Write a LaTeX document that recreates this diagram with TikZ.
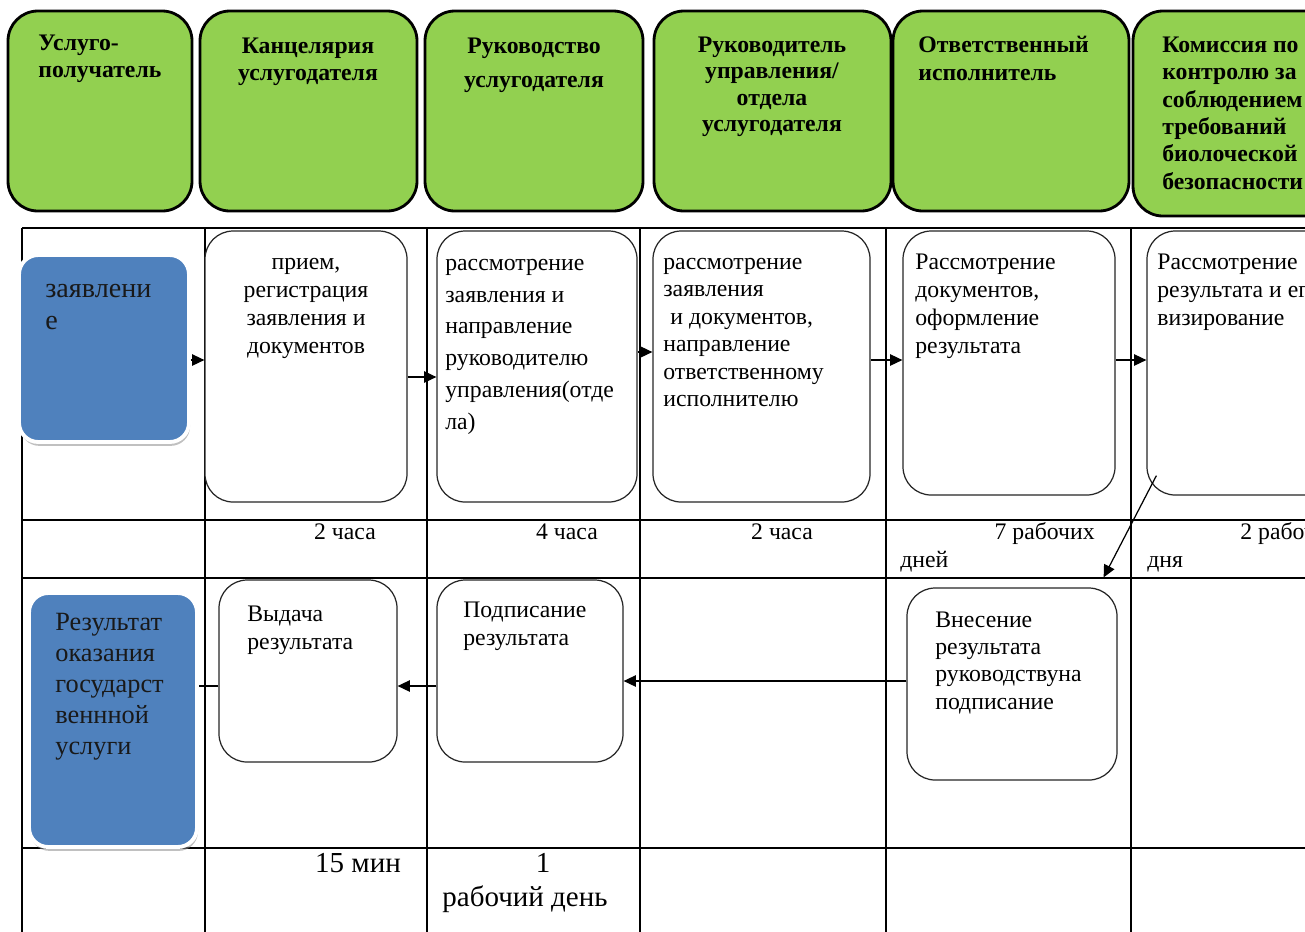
\documentclass[tikz,border=0pt]{standalone}
\usepackage{fontspec}
\setmainfont{Liberation Serif}
\usetikzlibrary{fit,calc,arrows.meta,shadows}
\definecolor{hdrgreen}{HTML}{92D050}
\definecolor{inblue}{HTML}{4F81BD}

\tikzset{
  hdr/.style={draw=black, line width=1.6pt, fill=hdrgreen, rounded corners=17pt, inner sep=0pt},
  proc/.style={draw=black!85, line width=0.7pt, fill=white, rounded corners=16pt, inner sep=0pt},
  inbox/.style={fill=inblue, draw=white, line width=2.2pt, rounded corners=11pt, inner sep=0pt,
    drop shadow={shadow xshift=0.6pt, shadow yshift=-2.2pt, fill=black!45, opacity=0.55}},
  grid/.style={line width=0.9pt, black},
  flow/.style={-{Triangle[length=7pt,width=6.5pt]}, line width=0.7pt},
  link/.style={line width=0.7pt},
  htxt/.style={inner sep=0pt, anchor=north west, align=left},
  hctr/.style={inner sep=0pt, anchor=north, align=center},
  btxt/.style={inner sep=0pt, anchor=north west, align=left},
  bctr/.style={inner sep=0pt, anchor=north, align=center},
  tlabel/.style={inner sep=0pt, font=\fontsize{13.5}{16}\selectfont},
}
\newcommand{\hfnt}[1]{\bfseries\fontsize{13.5}{#1}\selectfont}
\newcommand{\bfnt}[1]{\fontsize{13.5}{#1}\selectfont}

\begin{document}
\begin{tikzpicture}[x=0.02cm, y=-0.02cm]
\useasboundingbox (0,0) rectangle (1305,931);
\clip (0,0) rectangle (1305,931);

% table grid
\foreach \gy in {228,520,578,848} \draw[grid] (22,\gy) -- (1320,\gy);
\foreach \gx in {22,205,427,640,886,1131} \draw[grid] (\gx,228) -- (\gx,940);

% lane headers
\node[hdr, fit={(8,11)(192,211)}] (h1) {};
\node[hdr, fit={(200,11)(417,211)}] (h2) {};
\node[hdr, fit={(425,11)(643,211)}] (h3) {};
\node[hdr, fit={(654,11)(891,211)}] (h4) {};
\node[hdr, fit={(893,11)(1129,211)}] (h5) {};
\node[hdr, fit={(1133,11)(1420,216)}] (h6) {};

\node[htxt, font=\hfnt{15.3}] (h1t) at (38,31) {\strut Услуго-\\получатель};
\node[hctr, font=\hfnt{15.3}] (h2t) at (308,34) {\strut Канцелярия\\услугодателя};
\node[hctr, font=\hfnt{19.8}] (h3t) at (534,28.5) {\strut Руководство\\услугодателя};
\node[hctr, font=\hfnt{15.1}] (h4t) at (772,33.3) {\strut Руководитель\\управления/\\отдела\\услугодателя};
\node[htxt, font=\hfnt{15.9}] (h5t) at (918,32.4) {\strut Ответственный\\исполнитель};
\node[htxt, font=\hfnt{15.6}] (h6t) at (1162,32.7) {\strut Комиссия по\\контролю за\\соблюдением\\требований\\биолоческой\\безопасности};

% input and output of the service
\node[inbox, fit={(19,255)(189,442)}] (in1) {};
\node[inbox, fit={(29,593)(197,847)}] (in2) {};

% process steps
\node[proc, fit={(205,231)(407,502)}] (b1) {};
\node[proc, fit={(437,231)(637,502)}] (b2) {};
\node[proc, fit={(653,231)(870,502)}] (b3) {};
\node[proc, fit={(903,231)(1115,495)}] (b4) {};
\node[proc, fit={(1147,231)(1400,495)}] (b5) {};
\node[proc, fit={(907,588)(1117,780)}] (b6) {};
\node[proc, fit={(437,580)(623,762)}] (b7) {};
\node[proc, fit={(219,580)(397,762)}] (b8) {};

% connector heights
\coordinate (ya) at (0,360);
\coordinate (yb) at (0,377);
\coordinate (yc) at (0,352);
\coordinate (yd) at (0,681);
\coordinate (ye) at (0,686);

\draw[flow] (in1.east |- ya) -- (b1.west |- ya);
\draw[flow] (b1.east |- yb) -- (b2.west |- yb);
\draw[flow] (b2.east |- yc) -- (b3.west |- yc);
\draw[flow] (b3.east |- ya) -- (b4.west |- ya);
\draw[flow] (b4.east |- ya) -- (b5.west |- ya);
\draw[flow] ($(b5.south west)+(10,-20)$) -- ($(b6.north east)+(-14,-10)$);
\draw[flow] (b6.west |- yd) -- (b7.east |- yd);
\draw[flow] (b7.west |- ye) -- (b8.east |- ye);
\draw[link] (b8.west |- ye) -- (in2.east |- ye);

% texts of the steps
\node[btxt, font=\fontsize{16}{18.1}\selectfont, white!10!black] (in1t) at (45,274.6) {\strut заявлени\\е};
\node[btxt, font=\fontsize{15}{17.6}\selectfont, white!10!black] (in2t) at (55,608.3) {\strut Результат\\оказания\\государст\\веннной\\услуги};
\node[bctr, font=\bfnt{15.9}] (b1t) at (306,249.4) {\strut прием,\\регистрация\\заявления и\\документов};
\node[btxt, font=\bfnt{18.1}] (b2t) at (445,247.6) {\strut рассмотрение\\заявления и\\направление\\руководителю\\управления(отде\\ла)};
\node[btxt, font=\bfnt{15.65}] (b3t) at (663,249.7) {\strut рассмотрение\\заявления\\\hspace{0.3em}и документов,\\направление\\ответственному\\исполнителю};
\node[btxt, font=\bfnt{15.9}] (b4t) at (915,249.4) {\strut Рассмотрение\\документов,\\оформление\\результата};
\node[btxt, font=\bfnt{15.9}] (b5t) at (1157,249.4) {\strut Рассмотрение\\результата и его\\визирование};
\node[btxt, font=\bfnt{15.5}] (b6t) at (935,607.9) {\strut Внесение\\результата\\руководствуна\\подписание};
\node[btxt, font=\bfnt{15.9}] (b7t) at (463,597.4) {\strut Подписание\\результата};
\node[btxt, font=\bfnt{15.9}] (b8t) at (247,601.4) {\strut Выдача\\результата};

% durations
\node[tlabel, anchor=base] (t1) at (345,539) {2 часа};
\node[tlabel, anchor=base] (t2) at (567,539) {4 часа};
\node[tlabel, anchor=base] (t3) at (782,539) {2 часа};
\node[tlabel, anchor=base east] (t4a) at (1095,539) {7 рабочих};
\node[tlabel, anchor=base west] (t4b) at (900,567) {дней};
\node[tlabel, anchor=base west] (t5a) at (1240,539) {2 рабочих};
\node[tlabel, anchor=base west] (t5b) at (1147,567) {дня};
\node[tlabel, anchor=base, font=\fontsize{16.5}{19}\selectfont] (t6) at (358,872) {15 мин};
\node[tlabel, anchor=base, font=\fontsize{16.5}{19}\selectfont] (t7a) at (543,872) {1};
\node[tlabel, anchor=base, font=\fontsize{16.5}{19}\selectfont] (t7b) at (525,906) {рабочий день};
\end{tikzpicture}
\end{document}
